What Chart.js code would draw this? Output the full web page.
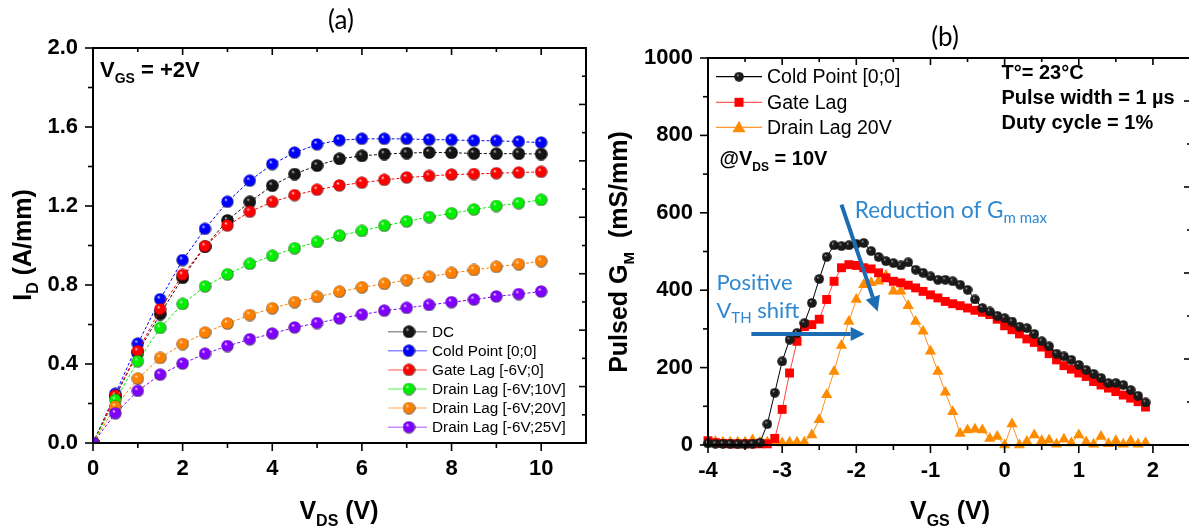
<!DOCTYPE html>
<html><head><meta charset="utf-8">
<script src="https://cdn.jsdelivr.net/npm/chart.js@4.4.1/dist/chart.umd.min.js"></script>
<style>
html,body{margin:0;padding:0;background:#fff;overflow:hidden;width:1189px;height:529px;}
#c1{position:absolute;left:0;top:0;width:600px;height:529px;}
#c2{position:absolute;left:600px;top:0;width:600px;height:529px;}
</style></head><body>
<canvas id="c1" width="600" height="529"></canvas>
<canvas id="c2" width="600" height="529"></canvas>
<script>
const F = "'Liberation Sans', Arial, Helvetica, sans-serif";
const C = "Lato, 'Open Sans', sans-serif";

// ---------- Panel (a) data ----------
const vds = [0,0.5,1,1.5,2,2.5,3,3.5,4,4.5,5,5.5,6,6.5,7,7.5,8,8.5,9,9.5,10];
const idDC    = [0,0.235,0.457,0.653,0.837,0.994,1.127,1.221,1.303,1.362,1.405,1.439,1.454,1.463,1.468,1.471,1.470,1.466,1.465,1.465,1.463];
const idCold  = [0,0.249,0.503,0.728,0.926,1.084,1.221,1.328,1.412,1.470,1.512,1.533,1.540,1.540,1.540,1.536,1.535,1.531,1.530,1.526,1.521];
const idGate  = [0,0.240,0.465,0.677,0.851,0.996,1.101,1.171,1.221,1.255,1.282,1.304,1.318,1.332,1.344,1.352,1.359,1.362,1.366,1.369,1.373];
const idDL10  = [0,0.218,0.414,0.583,0.704,0.793,0.854,0.907,0.948,0.986,1.018,1.050,1.074,1.100,1.122,1.144,1.163,1.182,1.200,1.214,1.231];
const idDL20  = [0,0.184,0.326,0.431,0.501,0.559,0.605,0.648,0.682,0.713,0.740,0.766,0.788,0.806,0.825,0.842,0.861,0.876,0.892,0.905,0.921];
const idDL25  = [0,0.150,0.264,0.346,0.402,0.452,0.491,0.525,0.554,0.585,0.607,0.631,0.650,0.670,0.684,0.699,0.713,0.726,0.742,0.754,0.767];
const namesA  = ['DC','Cold Point [0;0]','Gate Lag [-6V;0]','Drain Lag [-6V;10V]','Drain Lag [-6V;20V]','Drain Lag [-6V;25V]'];
const colorsA = ['#111111','#0000ff','#ff0000','#00ee00','#ff8000','#8000ff'];
const aXTicks = [0,2,4,6,8,10];
const aYTicks = [0,0.4,0.8,1.2,1.6,2.0];

// ---------- Panel (b) data ----------
const vgs = [-4.0,-3.9,-3.8,-3.7,-3.6,-3.5,-3.4,-3.3,-3.2,-3.1,-3.0,-2.9,-2.8,-2.7,-2.6,-2.5,-2.4,-2.3,-2.2,-2.1,
             -2.0,-1.9,-1.8,-1.7,-1.6,-1.5,-1.4,-1.3,-1.2,-1.1,-1.0,-0.9,-0.8,-0.7,-0.6,-0.5,-0.4,-0.3,-0.2,-0.1,
             0.0,0.1,0.2,0.3,0.4,0.5,0.6,0.7,0.8,0.9,1.0,1.1,1.2,1.3,1.4,1.5,1.6,1.7,1.8,1.9];
const gmCold  = [4,3,3,3,2,2,3,6,54,135,216,272,289,315,367,429,486,516,514,516,
                 520,522,501,486,475,470,464,472,453,445,436,427,427,423,414,401,376,354,345,334,
                 328,319,306,302,287,268,255,236,229,220,207,194,184,173,160,160,155,142,127,110];
const gmGate  = [11,6,4,3,3,3,3,3,3,17,92,186,268,306,311,325,376,423,458,466,
                 464,458,455,445,432,423,419,413,406,397,388,380,371,365,360,354,348,343,337,325,
                 308,298,287,274,265,253,236,220,205,196,186,177,164,155,147,138,129,121,112,98];
const gmDrain = [11,9,7,7,7,7,13,7,7,7,5,7,7,7,26,65,130,190,257,319,
                 376,414,419,423,438,397,397,360,319,294,242,190,136,86,30,39,41,39,17,22,
                 0,54,0,9,26,11,13,2,15,5,26,8,2,22,3,11,2,11,2,6];
const namesB  = ['Cold Point [0;0]','Gate Lag','Drain Lag 20V'];
const bXTicks = [-4,-3,-2,-1,0,1,2];
const bYTicks = [0,200,400,600,800,1000];

// ---------- helpers ----------
function sphere(color, d, dark, hi){
  const c=document.createElement('canvas'); c.width=d; c.height=d;
  const g=c.getContext('2d'); const r=d/2;
  const gr=g.createRadialGradient(r*0.7, r*0.62, 0, r, r, r);
  gr.addColorStop(0, hi||'#ffffff');
  gr.addColorStop(0.28, color);
  gr.addColorStop(0.8, color);
  gr.addColorStop(1, dark);
  g.fillStyle=gr; g.beginPath(); g.arc(r,r,r-0.2,0,Math.PI*2); g.fill();
  return c;
}
function line(ctx,x1,y1,x2,y2){ctx.beginPath();ctx.moveTo(x1,y1);ctx.lineTo(x2,y2);ctx.stroke();}
function minorsOf(majors,min,max){const st=majors[1]-majors[0];const out=[];for(let k=-1;k<=majors.length;k++){const v=majors[0]+st*(k+0.5);if(v>min+1e-9&&v<max-1e-9)out.push(v);}return out;}
function rich(ctx, parts, x, y, align){
  let w=0; parts.forEach(p=>{ctx.font=p[1]; w+=ctx.measureText(p[0]).width;});
  let sx = align==='center'? x-w/2 : (align==='right'? x-w : x);
  ctx.textAlign='left';
  parts.forEach(p=>{ctx.font=p[1]; ctx.fillText(p[0], sx, y+(p[2]||0)); sx+=ctx.measureText(p[0]).width;});
}
function frame(chart, o){
  const {ctx, chartArea:a, scales:{x,y}} = chart;
  ctx.save(); ctx.strokeStyle='#000'; ctx.lineWidth=o.lw;
  ctx.strokeRect(a.left, a.top, a.right-a.left, a.bottom-a.top);
  ctx.lineWidth=1.6;
  const xm=o.xMaj, xn=minorsOf(xm,x.min,x.max), ym=o.yMaj, yn=minorsOf(ym,y.min,y.max);
  xm.forEach(v=>{const p=x.getPixelForValue(v); line(ctx,p,a.bottom,p,a.bottom+o.outMaj); line(ctx,p,a.top,p,a.top+o.topMaj);});
  xn.forEach(v=>{const p=x.getPixelForValue(v); line(ctx,p,a.bottom,p,a.bottom+o.outMin); line(ctx,p,a.top,p,a.top+o.topMin);});
  ym.forEach(v=>{const p=y.getPixelForValue(v); line(ctx,a.left-o.outMaj,p,a.left,p);});
  yn.forEach(v=>{const p=y.getPixelForValue(v); line(ctx,a.left-o.outMin,p,a.left,p);});
  for(let k=0;k<=o.rightDiv;k++){const p=y.getPixelForValue(y.min+(y.max-y.min)*k/o.rightDiv); line(ctx,a.right-(k%2?o.rMin:o.rMaj),p,a.right,p);}
  ctx.restore();
}
function arrow(ctx,x1,y1,x2,y2,w,hl,hw,color){
  const ang=Math.atan2(y2-y1,x2-x1); const bx=x2-hl*Math.cos(ang), by=y2-hl*Math.sin(ang);
  ctx.save(); ctx.strokeStyle=color; ctx.fillStyle=color; ctx.lineWidth=w; ctx.lineCap='butt';
  line(ctx,x1,y1,bx,by);
  ctx.beginPath(); ctx.moveTo(x2,y2);
  ctx.lineTo(bx+hw*Math.sin(ang), by-hw*Math.cos(ang));
  ctx.lineTo(bx-hw*Math.sin(ang), by+hw*Math.cos(ang)); ctx.closePath(); ctx.fill();
  ctx.restore();
}
const tickFont = {family:F, size:22, weight:'bold'};

// ---------- Chart (a) ----------
const spheresA = colorsA.map((c,i)=> i===0 ? sphere('#151515',13,'#000','#d0d0d0') : sphere(c,13,'rgba(0,0,0,0.55)','#ffffff'));
const seriesA = [idDC,idCold,idGate,idDL10,idDL20,idDL25];
const decoA = {
  id:'decoA',
  afterDatasetsDraw(chart){
    const ctx=chart.ctx;
    frame(chart,{lw:2,xMaj:aXTicks,yMaj:aYTicks,outMaj:8,outMin:5,topMaj:7,topMin:4,rightDiv:14,rMaj:7,rMin:4});
    ctx.save(); ctx.fillStyle='#000'; ctx.textBaseline='alphabetic';
    // legend
    namesA.forEach((n,i)=>{
      const yy=331.7+i*19.1;
      ctx.save(); ctx.globalAlpha=0.45; ctx.strokeStyle=colorsA[i]; ctx.lineWidth=1.5; line(ctx,388,yy,427,yy); ctx.restore();
      ctx.drawImage(spheresA[i],409-6.5,yy-6.5);
      ctx.fillStyle='#000'; ctx.font='15.3px '+F; ctx.textAlign='left'; ctx.textBaseline='middle';
      ctx.fillText(n,432,yy+1);
    });
    ctx.textBaseline='alphabetic';
    rich(ctx,[['V','bold 22px '+F],['GS','bold 14px '+F,6],[' = +2V','bold 22px '+F]],100,77,'left');
    rich(ctx,[['V','bold 25px '+F],['DS','bold 16px '+F,7],[' (V)','bold 25px '+F]],339,519,'center');
    ctx.save(); ctx.translate(31,245); ctx.rotate(-Math.PI/2);
    rich(ctx,[['I','bold 25px '+F],['D','bold 16px '+F,7],[' (A/mm)','bold 25px '+F]],0,0,'center');
    ctx.restore();
    ctx.font='26px '+C; ctx.textAlign='center'; ctx.textBaseline='middle';
    ctx.fillText('(a)',341,21);
    ctx.restore();
  }
};
new Chart(document.getElementById('c1'),{
  type:'line',
  data:{datasets: seriesA.map((s,i)=>({
    label:namesA[i], data:vds.map((x,j)=>({x:x,y:s[j]})),
    borderColor:colorsA[i], borderWidth:1, borderDash:[3,2], tension:0,
    pointStyle:spheresA[i], pointRadius:6.5, order:seriesA.length-i
  }))},
  options:{
    responsive:false, animation:false, events:[],
    layout:{padding:{left:0,right:14,top:48,bottom:0}},
    plugins:{legend:{display:false},tooltip:{enabled:false}},
    scales:{
      x:{type:'linear',min:0,max:11,
         afterBuildTicks:s=>{s.ticks=aXTicks.map(v=>({value:v}));},
         afterFit:s=>{s.height=86;},
         grid:{display:false,drawTicks:false}, border:{display:false},
         ticks:{font:tickFont,color:'#000',padding:13,autoSkip:false,maxRotation:0,callback:v=>String(v)}},
      y:{type:'linear',min:0,max:2,
         afterBuildTicks:s=>{s.ticks=aYTicks.map(v=>({value:v}));},
         afterFit:s=>{s.width=93;},
         grid:{display:false,drawTicks:false}, border:{display:false},
         ticks:{font:tickFont,color:'#000',padding:15,autoSkip:false,callback:v=>Number(v).toFixed(1)}}
    }
  },
  plugins:[decoA]
});

// ---------- Chart (b) ----------
const sphB = sphere('#1a1a1a',10,'#000','#cfcfcf');
const decoB = {
  id:'decoB',
  afterDatasetsDraw(chart){
    const ctx=chart.ctx; const {x,y}=chart.scales;
    frame(chart,{lw:2,xMaj:bXTicks,yMaj:bYTicks,outMaj:8,outMin:5,topMaj:7,topMin:4,rightDiv:9,rMaj:6,rMin:3});
    ctx.save();
    // legend
    const rows=[76.7,102.3,127.3];
    const lc=['#000000','#ff5a5a','#ff9830'];
    rows.forEach((yy,i)=>{
      ctx.strokeStyle=lc[i]; ctx.lineWidth=1.2; line(ctx,116,yy,162,yy);
      if(i===0) ctx.drawImage(sphB,139-5,yy-5);
      else if(i===1){ctx.fillStyle='#ff0000'; ctx.fillRect(139-4.5,yy-4.5,9,9);}
      else {ctx.fillStyle='#ff8c00'; ctx.beginPath(); ctx.moveTo(139,yy-6.5); ctx.lineTo(145.5,yy+5); ctx.lineTo(132.5,yy+5); ctx.closePath(); ctx.fill();}
      ctx.fillStyle='#000'; ctx.font='19.5px '+F; ctx.textAlign='left'; ctx.textBaseline='middle';
      ctx.fillText(namesB[i],167,yy+1);
    });
    ctx.font='bold 20px '+F; ctx.textBaseline='middle';
    ctx.fillText('T°= 23°C',401.5,73);
    ctx.fillText('Pulse width = 1 µs',401.5,98.5);
    ctx.fillText('Duty cycle = 1%',401.5,123.5);
    ctx.textBaseline='alphabetic';
    rich(ctx,[['@V','bold 20px '+F],['DS','bold 12px '+F,6],[' = 10V','bold 20px '+F]],119.5,165,'left');
    rich(ctx,[['V','bold 25px '+F],['GS','bold 16px '+F,7],[' (V)','bold 25px '+F]],350,519,'center');
    ctx.save(); ctx.translate(27,252); ctx.rotate(-Math.PI/2);
    rich(ctx,[['Pulsed G','bold 25px '+F],['M','bold 15px '+F,7],['  (mS/mm)','bold 25px '+F]],0,0,'center');
    ctx.restore();
    ctx.font='26px '+C; ctx.textAlign='center'; ctx.textBaseline='middle';
    ctx.fillText('(b)',345,38);
    // annotations (data coordinates)
    const blue='#2f88d0', dblue='#1b6cb3';
    arrow(ctx,x.getPixelForValue(-2.20),y.getPixelForValue(621),x.getPixelForValue(-1.712),y.getPixelForValue(345),4,15,7.5,dblue);
    arrow(ctx,x.getPixelForValue(-3.415),y.getPixelForValue(287),x.getPixelForValue(-1.887),y.getPixelForValue(287),4,14,7,dblue);
    ctx.fillStyle=blue; ctx.textBaseline='alphabetic';
    rich(ctx,[['Reduction of G','22.5px '+C],['m max','15px '+C,5]],x.getPixelForValue(-2.02),y.getPixelForValue(586),'left');
    rich(ctx,[['Positive','22px '+C]],x.getPixelForValue(-3.887),y.getPixelForValue(401),'left');
    rich(ctx,[['V','22px '+C],['TH','15px '+C,5],[' shift','22px '+C]],x.getPixelForValue(-3.887),y.getPixelForValue(328),'left');
    ctx.restore();
  }
};
new Chart(document.getElementById('c2'),{
  type:'line',
  data:{datasets:[
    {label:namesB[0],data:vgs.map((v,j)=>({x:v,y:gmCold[j]})),borderColor:'#000',borderWidth:1,tension:0,
     pointStyle:sphB,pointRadius:5,clip:false},
    {label:namesB[1],data:vgs.map((v,j)=>({x:v,y:gmGate[j]})),borderColor:'#ff4040',borderWidth:1,tension:0,
     pointStyle:'rect',pointRadius:6.3,pointBackgroundColor:'#ff0000',pointBorderColor:'#ff0000',pointBorderWidth:0,clip:false},
    {label:namesB[2],data:vgs.map((v,j)=>({x:v,y:gmDrain[j]})),borderColor:'#ff9020',borderWidth:1,tension:0,
     pointStyle:'triangle',pointRadius:6.5,pointBackgroundColor:'#ff8c00',pointBorderColor:'#ff8c00',pointBorderWidth:0,clip:false}
  ]},
  options:{
    responsive:false, animation:false, events:[],
    layout:{padding:{left:0,right:10,top:58,bottom:0}},
    plugins:{legend:{display:false},tooltip:{enabled:false}},
    scales:{
      x:{type:'linear',min:-4,max:2.5,
         afterBuildTicks:s=>{s.ticks=bXTicks.map(v=>({value:v}));},
         afterFit:s=>{s.height=84;},
         grid:{display:false,drawTicks:false}, border:{display:false},
         ticks:{font:tickFont,color:'#000',padding:13,autoSkip:false,maxRotation:0,callback:v=>String(v)}},
      y:{type:'linear',min:0,max:1000,
         afterBuildTicks:s=>{s.ticks=bYTicks.map(v=>({value:v}));},
         afterFit:s=>{s.width=108;},
         grid:{display:false,drawTicks:false}, border:{display:false},
         ticks:{font:tickFont,color:'#000',padding:15,autoSkip:false,callback:v=>String(v)}}
    }
  },
  plugins:[decoB]
});
</script>
</body></html>
